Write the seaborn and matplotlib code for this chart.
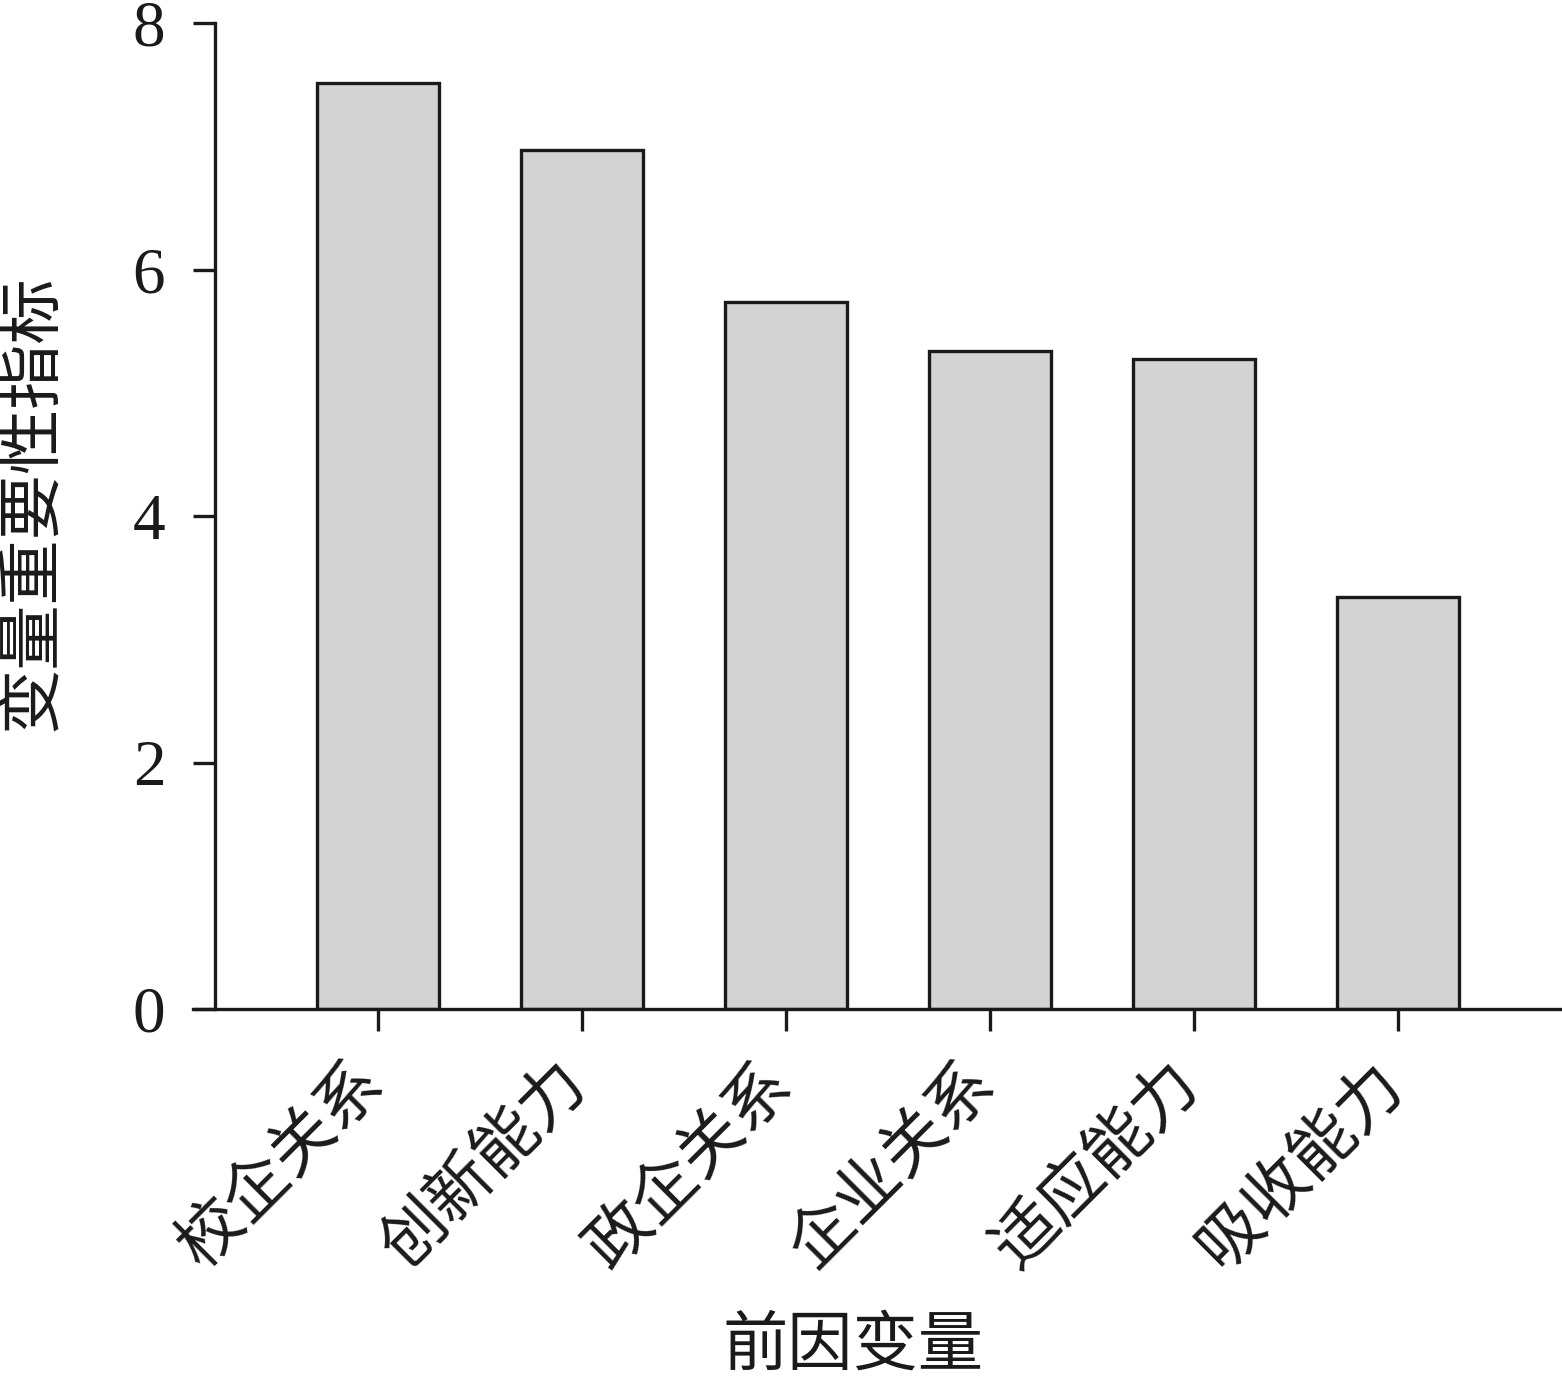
import matplotlib
matplotlib.use("Agg")
import matplotlib.pyplot as plt
import matplotlib.transforms as mtransforms
import seaborn as sns
import pandas as pd

categories = ["校企关系", "创新能力", "政企关系", "企业关系", "适应能力", "吸收能力"]
values = [7.51, 6.97, 5.74, 5.34, 5.27, 3.34]
y_ticks = [0, 2, 4, 6, 8]
x_label = "前因变量"
y_label = "变量重要性指标"

sns.set_theme(style="white")
plt.rcParams['font.family'] = ['Liberation Serif', 'Noto Sans CJK SC']

df = pd.DataFrame({"cat": categories, "val": values})

fig = plt.figure(figsize=(15.62, 13.82), dpi=100)
ax = fig.add_axes([193/1562, 1 - 1009/1382, 1 - 193/1562, (1009 - 23)/1382])

sns.barplot(data=df, x="cat", y="val", ax=ax, color="#d3d3d3", saturation=1,
            edgecolor="#1a1a1a", linewidth=2.4, width=0.6)

ax.set_xlim(-0.907, 5.804)
ax.set_ylim(0, 8)
ax.set_yticks(y_ticks)
ax.set_yticklabels([str(t) for t in y_ticks])

for s in ["top", "right"]:
    ax.spines[s].set_visible(False)
for s in ["left", "bottom"]:
    ax.spines[s].set_linewidth(2.4)
    ax.spines[s].set_color("#1a1a1a")
ax.spines["left"].set_position(("axes", 22/1369))

ax.tick_params(axis="y", direction="out", length=15.8, width=2.4, color="#1a1a1a",
               labelsize=47, pad=20, left=True, labelcolor="#1a1a1a")
ax.tick_params(axis="x", direction="out", length=15.8, width=2.4, color="#1a1a1a",
               labelsize=47, pad=16, bottom=True, labelcolor="#1a1a1a")
offset = mtransforms.ScaledTranslation(18/100, 0, fig.dpi_scale_trans)
for lab in ax.get_xticklabels():
    lab.set_rotation(45)
    lab.set_ha("right")
    lab.set_va("top")
    lab.set_transform(lab.get_transform() + offset)

ax.set_xlabel(x_label, fontsize=47, color="#1a1a1a")
ax.set_ylabel(y_label, fontsize=47, color="#1a1a1a")
ax.xaxis.set_label_coords((853 - 193)/1369, (1009 - 1318)/986)
ax.yaxis.set_label_coords((64 - 193)/1369, (1009 - 503)/986)

fig.savefig("out.png", dpi=100, facecolor="white")
